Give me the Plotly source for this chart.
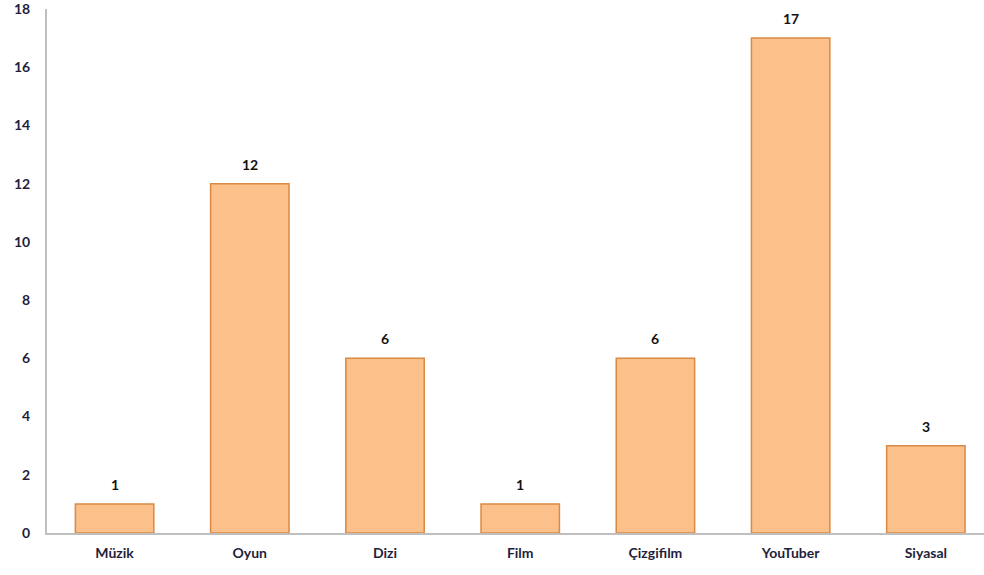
import plotly.graph_objects as go

categories = ["Müzik", "Oyun", "Dizi", "Film", "Çizgifilm", "YouTuber", "Siyasal"]
values = [1, 12, 6, 1, 6, 17, 3]
y_ticks = [0, 2, 4, 6, 8, 10, 12, 14, 16, 18]

fig = go.Figure(go.Bar(
    x=categories,
    y=values,
    width=0.58,
    marker=dict(color="#fcc08a", line=dict(color="#d98a45", width=1.5)),
))

for c, v in zip(categories, values):
    fig.add_annotation(
        x=c, y=v, text=str(v), showarrow=False,
        yanchor="bottom", yshift=9,
        font=dict(family="Lato", size=14, color="#111111", weight="bold"),
    )

fig.update_layout(
    width=984, height=575,
    margin=dict(l=47, r=0, t=7, b=42),
    plot_bgcolor="white", paper_bgcolor="white",
    showlegend=False,
    xaxis=dict(
        range=[-0.5, 6.43],
        showline=True, linecolor="#bfbfbf", linewidth=2,
        showgrid=False, ticks="",
        tickfont=dict(family="Lato", size=14, color="#1f1f3d", weight="bold"),
        ticklabelstandoff=6,
    ),
    yaxis=dict(
        range=[0, 18],
        tickvals=y_ticks,
        showline=True, linecolor="#bfbfbf", linewidth=2,
        showgrid=False, ticks="", zeroline=False,
        tickfont=dict(family="Lato", size=14, color="#1f1f3d", weight="bold"),
        ticklabelstandoff=12,
        ticklabeloverflow="allow",
    ),
)

fig.write_html("out.html")
